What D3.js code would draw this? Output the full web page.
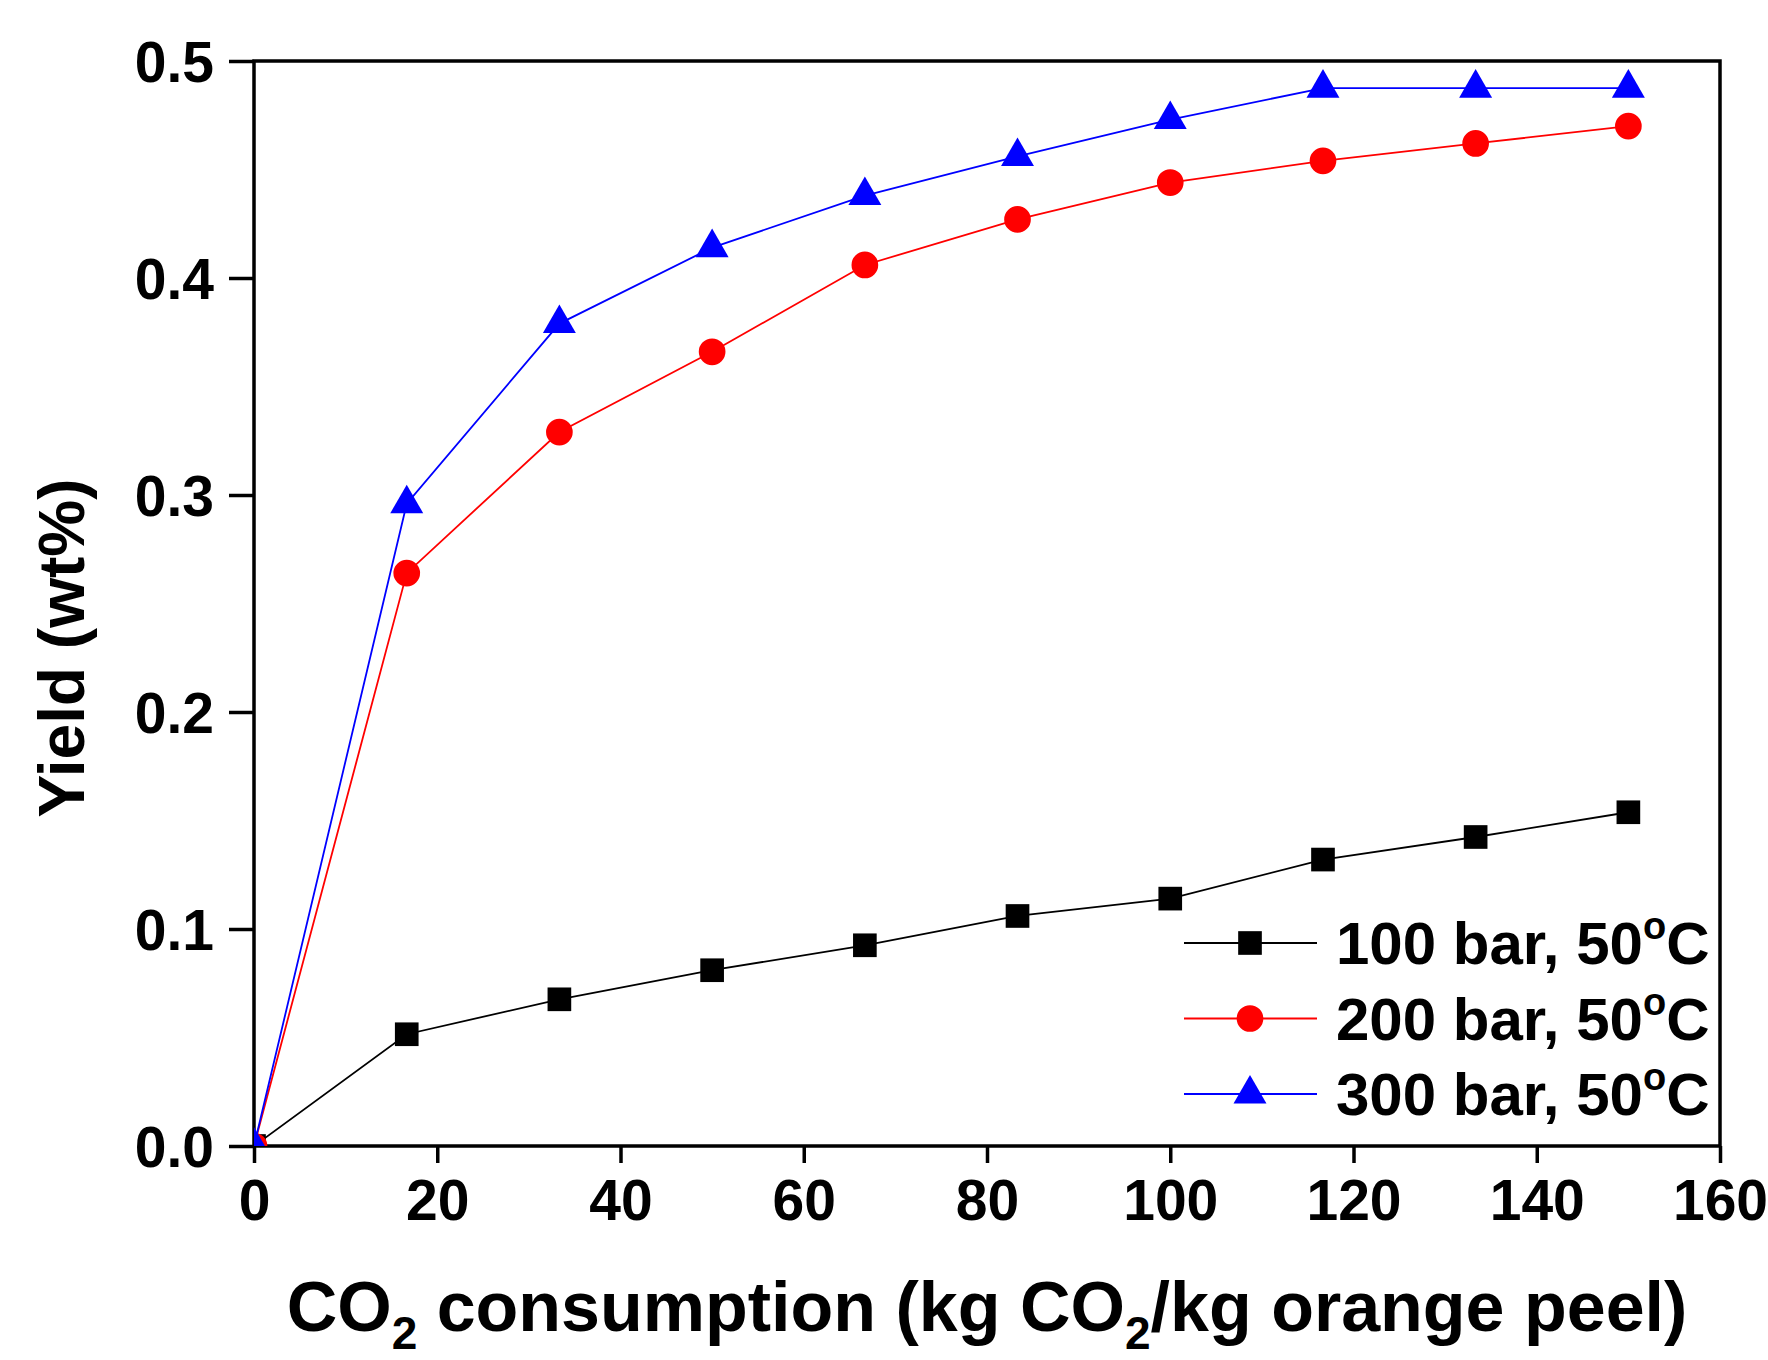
<!DOCTYPE html>
<html>
<head>
<meta charset="utf-8">
<script src="https://cdn.jsdelivr.net/npm/d3@7"></script>
<style>
  body { margin: 0; background: #fff; }
  text { font-family: "Liberation Sans", Arial, sans-serif; font-weight: bold; fill: #000; }
</style>
</head>
<body>
<div id="chart"></div>
<script>
// data
const consumption = [0, 16.67, 33.33, 50, 66.67, 83.33, 100, 116.67, 133.33, 150];
const yield100 = [0, 0.0515, 0.0676, 0.081, 0.0925, 0.106, 0.114, 0.132, 0.1424, 0.1538];
const yield200 = [0, 0.264, 0.329, 0.366, 0.406, 0.427, 0.444, 0.454, 0.462, 0.470];
const yield300 = [0, 0.296, 0.379, 0.414, 0.438, 0.456, 0.473, 0.4875, 0.4875, 0.4875];
const seriesNames = ["100 bar, 50", "200 bar, 50", "300 bar, 50"];
const xTicks = [0, 20, 40, 60, 80, 100, 120, 140, 160];
const yTicks = [0.0, 0.1, 0.2, 0.3, 0.4, 0.5];

const width = 1768, height = 1360;
const margin = { top: 61, right: 48, bottom: 214, left: 254 };
const innerW = width - margin.left - margin.right;
const innerH = height - margin.top - margin.bottom;

const series = [
  { name: seriesNames[0], values: yield100, color: "#000000", symbol: d3.symbolSquare, size: 560 },
  { name: seriesNames[1], values: yield200, color: "#ff0000", symbol: d3.symbolCircle, size: 560 },
  { name: seriesNames[2], values: yield300, color: "#0000ff", symbol: d3.symbolTriangle, size: 470 }
];

const svg = d3.select("#chart").append("svg")
  .attr("width", width)
  .attr("height", height);

const g = svg.append("g").attr("transform", `translate(${margin.left},${margin.top})`);

const x = d3.scaleLinear().domain([0, 160]).range([0, innerW]);
const y = d3.scaleLinear().domain([0, 0.5]).range([innerH, 0]);

g.append("defs").append("clipPath").attr("id", "plotclip")
  .append("rect").attr("width", innerW).attr("height", innerH);

// axes
const xAxis = d3.axisBottom(x).tickValues(xTicks).tickSize(17).tickPadding(14).tickFormat(d3.format("d"));
const yAxis = d3.axisLeft(y).tickValues(yTicks).tickSize(25).tickPadding(15).tickFormat(d3.format(".1f"));

const gx = g.append("g").attr("transform", `translate(0,${innerH})`).call(xAxis);
const gy = g.append("g").call(yAxis);

[gx, gy].forEach(a => {
  a.select(".domain").remove();
  a.selectAll(".tick line").attr("stroke", "#000").attr("stroke-width", 3.5);
  a.selectAll(".tick text").style("font-size", "57px").attr("fill", "#000");
});
gx.selectAll(".tick text").attr("dy", "0.75em");
gy.selectAll(".tick text").attr("dy", "0.36em");

// frame
g.append("rect")
  .attr("width", innerW).attr("height", innerH)
  .attr("fill", "none").attr("stroke", "#000").attr("stroke-width", 3.5);

const line = d3.line()
  .x((d, i) => x(consumption[i]))
  .y(d => y(d));

const plot = g.append("g").attr("clip-path", "url(#plotclip)");

series.forEach(s => {
  plot.append("path")
    .datum(s.values)
    .attr("fill", "none")
    .attr("stroke", s.color)
    .attr("stroke-width", 1.8)
    .attr("d", line);
  plot.selectAll(null)
    .data(s.values)
    .enter().append("path")
    .attr("d", d3.symbol().type(s.symbol).size(s.size))
    .attr("fill", s.color)
    .attr("transform", (d, i) => `translate(${x(consumption[i])},${y(d)})`);
});

// legend
const legend = g.append("g").attr("transform", "translate(930,882)");
series.forEach((s, i) => {
  const row = legend.append("g").attr("transform", `translate(0,${i * 75.5})`);
  row.append("line").attr("x1", 0).attr("x2", 133).attr("stroke", s.color).attr("stroke-width", 1.8);
  row.append("path")
    .attr("d", d3.symbol().type(s.symbol).size(s.size))
    .attr("fill", s.color)
    .attr("transform", "translate(66,0)");
  const t = row.append("text").attr("x", 152).attr("y", 21).style("font-size", "60px");
  t.append("tspan").text(s.name);
  t.append("tspan").attr("dy", -25).style("font-size", "38px").text("o");
  t.append("tspan").attr("dy", 25).text("C");
});

// axis titles
const xt = svg.append("text")
  .attr("x", margin.left + innerW / 2)
  .attr("y", 1331)
  .attr("text-anchor", "middle")
  .style("font-size", "70px");
xt.append("tspan").text("CO");
xt.append("tspan").attr("dy", 18).style("font-size", "46px").text("2");
xt.append("tspan").attr("dy", -18).text(" consumption (kg CO");
xt.append("tspan").attr("dy", 18).style("font-size", "46px").text("2");
xt.append("tspan").attr("dy", -18).text("/kg orange peel)");

const yt = svg.append("text")
  .attr("transform", "translate(84,648) rotate(-90)")
  .attr("text-anchor", "middle")
  .style("font-size", "64px");
yt.append("tspan").text("Yield (wt%)");
</script>
</body>
</html>
